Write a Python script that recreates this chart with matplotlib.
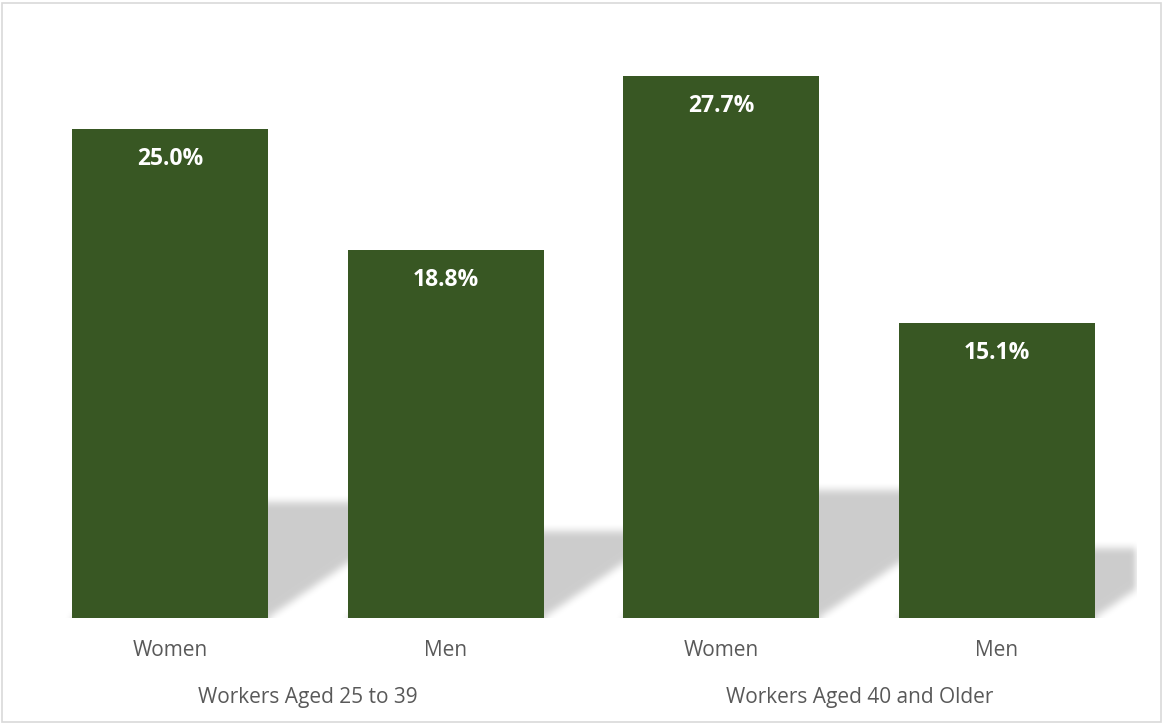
import numpy as np
import matplotlib
matplotlib.use("Agg")
import matplotlib.pyplot as plt
from matplotlib.patches import Rectangle

# ---- data ----
categories = ["Women", "Men", "Women", "Men"]
groups = ["Workers Aged 25 to 39", "Workers Aged 40 and Older"]
values = [25.0, 18.8, 27.7, 15.1]
value_labels = ["25.0%", "18.8%", "27.7%", "15.1%"]

BAR_COLOR = "#385723"
TEXT_COLOR = "#595959"
FONT = ["Open Sans", "DejaVu Sans"]

W, H, DPI = 1164, 725, 100
fig = plt.figure(figsize=(W / DPI, H / DPI), dpi=DPI)
fig.patch.set_facecolor("white")

px_unit = 275.67
left_px = 32.2
x_lo, x_hi = -0.5, -0.5 + (1137 - left_px) / px_unit
left, right = left_px / W, 1137 / W
bottom, top = 1 - 618 / H, 1 - 31 / H
ax = fig.add_axes([left, bottom, right - left, top - bottom])
ax.set_facecolor("none")

x = np.arange(len(values))
bar_w = 0.711
ymax = 30.0
ax.set_xlim(x_lo, x_hi)
ax.set_ylim(0, ymax)

# ---- perspective shadow (computed from bar values), blurred ----
nx, ny = 1105, 587
gx = np.linspace(x_lo, x_hi, nx)
gy = np.linspace(0, ymax, ny)
XX, YY = np.meshgrid(gx, gy)
mask = np.zeros_like(XX)
s = 0.236       # vertical scale of shadow
kfac = 0.0245   # horizontal skew per unit of value (data x units)
for xi, v in zip(x, values):
    sh_top = s * v
    kx = kfac * v
    t = np.clip(YY / sh_top, 0, None)
    inside = (YY <= sh_top) & (XX >= xi - bar_w / 2 + kx * t) & (XX <= xi + bar_w / 2 + kx * t)
    mask = np.maximum(mask, inside.astype(float))

def box_blur(a, r, axis):
    k = np.ones(2 * r + 1) / (2 * r + 1)
    return np.apply_along_axis(lambda m: np.convolve(m, k, mode="same"), axis, a)

pad = 12
m = np.vstack([np.repeat(mask[:1], pad, axis=0), mask])
for _ in range(2):
    m = box_blur(m, 4, 0)
    m = box_blur(m, 4, 1)
m = m[pad:]
rgba = np.zeros((ny, nx, 4))
rgba[..., 3] = 0.2 * m
ax.imshow(rgba, extent=[x_lo, x_hi, 0, ymax], origin="lower",
          aspect="auto", zorder=1, interpolation="bilinear")

# ---- bars ----
ax.bar(x, values, width=bar_w, color=BAR_COLOR, zorder=2)

for xi, v, lab in zip(x, values, value_labels):
    ax.annotate(lab, (xi, v), xytext=(0, -30), textcoords="offset pixels",
                ha="center", va="center", color="white", fontsize=16.5,
                fontweight="bold", family=FONT, zorder=3)

ax.set_xticks(x)
ax.set_xticklabels(categories, family=FONT, fontsize=15, color=TEXT_COLOR)
ax.tick_params(axis="x", length=0, pad=16)
ax.set_yticks([])
for sp in ax.spines.values():
    sp.set_visible(False)

for gi, g in enumerate(groups):
    cx = x[2 * gi: 2 * gi + 2].mean()
    ax.annotate(g, (cx, 0), xytext=(0, -79), textcoords="offset pixels",
                ha="center", va="center", family=FONT, fontsize=15,
                color=TEXT_COLOR, annotation_clip=False)

# figure border
fig.patches.append(Rectangle((2 / W, 3 / H), (W - 5) / W, (H - 6) / H,
                             transform=fig.transFigure, fill=False,
                             edgecolor="#D9D9D9", linewidth=1.2))

fig.savefig("out.png", dpi=DPI, facecolor="white")
